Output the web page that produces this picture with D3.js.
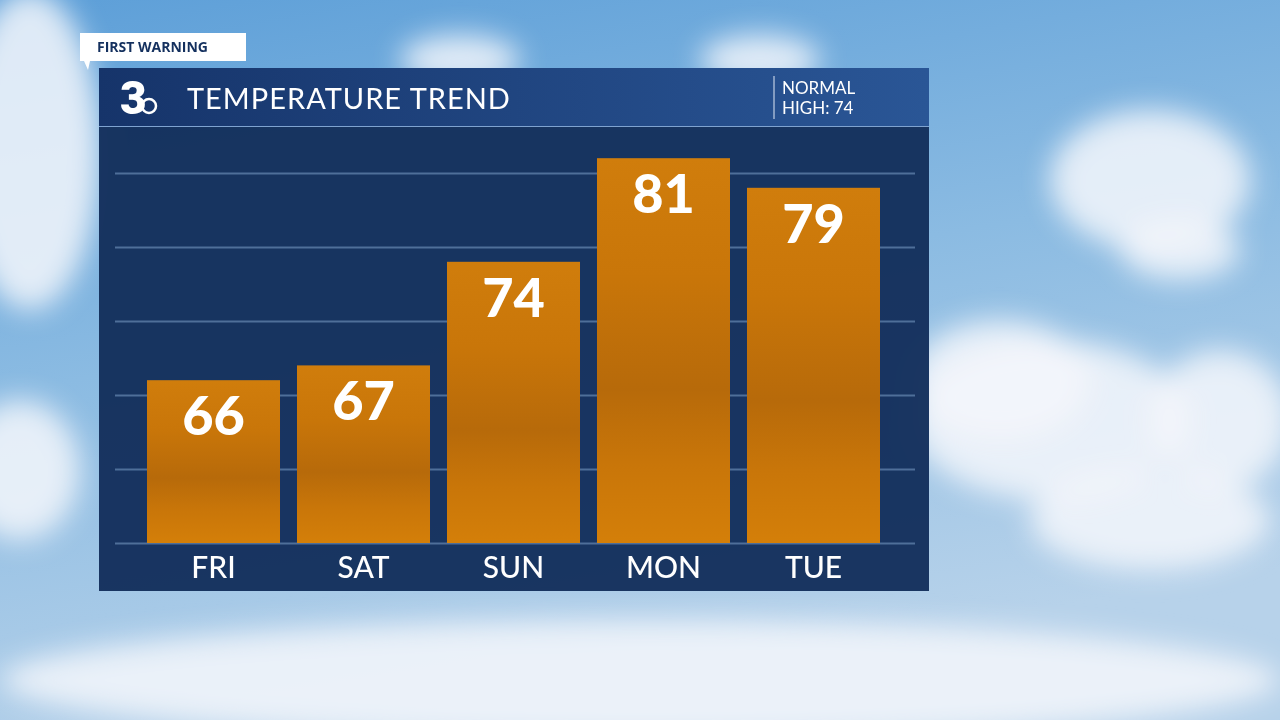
<!DOCTYPE html><html><head><script src="https://cdn.jsdelivr.net/npm/d3@7/dist/d3.min.js"></script>
<style>body{margin:0;overflow:hidden}</style></head><body><script>
const days=["FRI","SAT","SUN","MON","TUE"];
const highs=[66,67,74,81,79];
const gridTicks=[55,60,65,70,75,80];
const normalHigh=74;
const title="TEMPERATURE TREND";

const svg=d3.select("body").append("svg").attr("width",1280).attr("height",720);
const defs=svg.append("defs");
const sky=defs.append("linearGradient").attr("id","sky").attr("x1",0).attr("y1",0).attr("x2",0.3).attr("y2",1);
sky.append("stop").attr("offset","0%").attr("stop-color","#5d9fd8");
sky.append("stop").attr("offset","50%").attr("stop-color","#8bbbe2");
sky.append("stop").attr("offset","100%").attr("stop-color","#b7d2ea");
svg.append("rect").attr("width",1280).attr("height",720).attr("fill","url(#sky)");
defs.append("filter").attr("id","blur").append("feGaussianBlur").attr("stdDeviation",14);
const clouds=[[1150,180,100,70],[1180,250,60,30],[30,150,70,160],[20,470,60,70],[1050,420,140,80],[1220,420,70,70],[1150,520,120,50],[460,60,60,25],[760,60,60,25],[1000,380,90,60],[640,680,640,60]];
svg.append("g").attr("filter","url(#blur)").selectAll("ellipse").data(clouds).join("ellipse")
 .attr("cx",d=>d[0]).attr("cy",d=>d[1]).attr("rx",d=>d[2]).attr("ry",d=>d[3]).attr("fill","#f4f7fb").attr("opacity",0.85);

svg.append("rect").attr("x",99).attr("y",68).attr("width",830).attr("height",523).attr("fill","#142f5c").attr("opacity",0.97);
const hg=defs.append("linearGradient").attr("id","hdr").attr("x1",0).attr("x2",1);
hg.append("stop").attr("offset","0%").attr("stop-color","#16346a");
hg.append("stop").attr("offset","100%").attr("stop-color","#2a5696");
svg.append("rect").attr("x",99).attr("y",68).attr("width",830).attr("height",58).attr("fill","url(#hdr)");
svg.append("line").attr("x1",99).attr("x2",929).attr("y1",126.5).attr("y2",126.5).attr("stroke","#7fa3d0").attr("stroke-width",1);
svg.append("text").attr("x",120).attr("y",114).attr("fill","#fff").attr("font-family","Roboto").attr("font-weight",900).attr("font-size",46).text("3");
svg.append("circle").attr("cx",149).attr("cy",106).attr("r",7).attr("fill","none").attr("stroke","#fff").attr("stroke-width",2.5);
svg.append("text").attr("x",187).attr("y",109).attr("fill","#fff").attr("font-family","Lato").attr("font-size",29).attr("letter-spacing",1).text(title);
svg.append("line").attr("x1",774).attr("x2",774).attr("y1",76).attr("y2",119).attr("stroke","#dfe8f5");
svg.append("text").attr("x",782).attr("y",94).attr("fill","#fff").attr("font-family","Lato").attr("font-size",17).text("NORMAL");
svg.append("text").attr("x",782).attr("y",114).attr("fill","#fff").attr("font-family","Lato").attr("font-size",17).text("HIGH: "+normalHigh);
svg.append("path").attr("d","M80,33H246V61H90L88,70L84,61H80Z").attr("fill","#fff");
svg.append("text").attr("x",97).attr("y",52).attr("fill","#14305e").attr("font-family","Open Sans").attr("font-weight",700).attr("font-size",14).text("FIRST WARNING");

const x=d3.scaleBand().domain(days).range([147,880]).paddingInner(0.1133).paddingOuter(0);
const y=d3.scaleLinear().domain([55,80]).range([543,173]);
svg.append("g").selectAll("line").data(gridTicks).join("line")
 .attr("x1",115).attr("x2",915).attr("y1",d=>y(d)+0.5).attr("y2",d=>y(d)+0.5).attr("stroke","#4f6f99").attr("stroke-width",2);
const bg=defs.append("linearGradient").attr("id","bar").attr("x1",0).attr("y1",0).attr("x2",0).attr("y2",1);
[[0,"#d07d0c"],[0.3,"#c97609"],[0.6,"#b76a0a"],[0.8,"#c97609"],[1,"#d47f09"]].forEach(s=>bg.append("stop").attr("offset",s[0]).attr("stop-color",s[1]));
svg.append("g").selectAll("rect").data(highs).join("rect")
 .attr("x",(d,i)=>x(days[i])).attr("width",x.bandwidth()).attr("y",d=>y(d)).attr("height",d=>y(55)-y(d)).attr("fill","url(#bar)");
svg.append("g").selectAll("text").data(highs).join("text")
 .attr("x",(d,i)=>x(days[i])+x.bandwidth()/2).attr("y",d=>y(d)+55).attr("text-anchor","middle")
 .attr("fill","#fff").attr("font-family","Lato").attr("font-weight",900).attr("font-size",54).text(d=>d);
svg.append("g").selectAll("text").data(days).join("text")
 .attr("x",d=>x(d)+x.bandwidth()/2).attr("y",578).attr("text-anchor","middle")
 .attr("fill","#fff").attr("font-family","Lato").attr("font-weight",500).attr("font-size",30).text(d=>d);
</script></body></html>
